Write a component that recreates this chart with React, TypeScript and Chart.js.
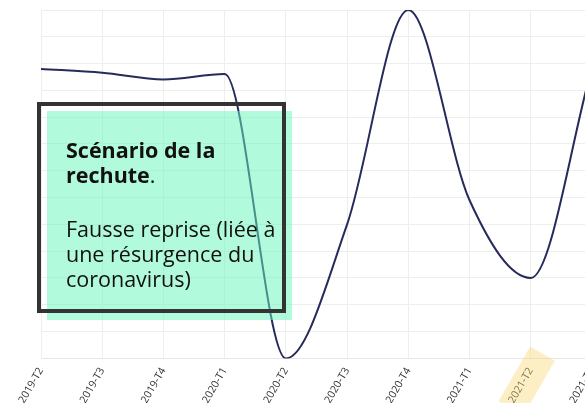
import React, { useEffect, useRef } from "react";
import { Chart, registerables } from "chart.js";

Chart.register(...registerables);

const categories = [
  "2019-T2", "2019-T3", "2019-T4", "2020-T1", "2020-T2",
  "2020-T3", "2020-T4", "2021-T1", "2021-T2", "2021-T3",
];
const values = [10.8, 10.66, 10.41, 10.61, 0, 5.0, 13, 5.9, 3.0, 10.85];
const highlightedLabel = "2021-T2";
const yMin = 0;
const yMax = 13;

const ROT = 60;
const TICK_PAD = 7;
const TICK_FONT = 10.5;

const highlightPlugin = {
  id: "labelHighlight",
  afterDraw(chart: any) {
    const xs = chart.scales.x;
    const idx = categories.indexOf(highlightedLabel);
    if (idx < 0) return;
    const ctx = chart.ctx;
    const px = xs.getPixelForTick(idx);
    const y = xs.top + TICK_PAD;
    ctx.save();
    ctx.font = `${TICK_FONT}px "Open Sans"`;
    const w = ctx.measureText(highlightedLabel).width;
    const lh = TICK_FONT * 1.2;
    ctx.translate(px, y);
    ctx.rotate((-ROT * Math.PI) / 180);
    ctx.fillStyle = "rgba(250,215,110,0.4)";
    ctx.fillRect(-w - 8, -10, w + 24, lh + 16);
    ctx.restore();
  },
};

function LineChart() {
  const ref = useRef<HTMLCanvasElement | null>(null);
  useEffect(() => {
    if (!ref.current) return;
    const chart = new Chart(ref.current, {
      type: "line",
      data: {
        labels: categories,
        datasets: [
          {
            data: values,
            borderColor: "#262b5c",
            borderWidth: 2,
            pointRadius: 0,
            fill: false,
            cubicInterpolationMode: "monotone",
          },
        ],
      },
      options: {
        animation: false,
        responsive: false,
        devicePixelRatio: 1,
        layout: { padding: { left: 41, top: 10, right: 30, bottom: 0 } },
        plugins: { legend: { display: false }, tooltip: { enabled: false } },
        scales: {
          x: {
            grid: { color: "#eeeeee", drawTicks: false },
            border: { color: "#e6e6e6" },
            afterFit: (axis: any) => {
              axis.height = 44.6;
            },
            ticks: {
              minRotation: ROT,
              maxRotation: ROT,
              padding: TICK_PAD,
              autoSkip: false,
              color: "#333333",
              font: { family: '"Open Sans"', size: TICK_FONT },
            },
          },
          y: {
            min: yMin,
            max: yMax,
            grid: { color: "#eeeeee", drawTicks: false },
            border: { color: "#eeeeee" },
            ticks: { display: false, stepSize: 1 },
          },
        },
      },
      plugins: [highlightPlugin],
    });
    return () => chart.destroy();
  }, []);
  return (
    <canvas
      ref={ref}
      width={622}
      height={403}
      style={{ position: "absolute", left: 0, top: 0, width: 622, height: 403 }}
    />
  );
}

export default function App() {
  return (
    <div
      style={{
        position: "fixed",
        left: 0,
        top: 0,
        width: 585,
        height: 403,
        overflow: "hidden",
        background: "#ffffff",
      }}
    >
      <LineChart />
      <div
        style={{
          position: "absolute",
          left: 47,
          top: 111,
          width: 245,
          height: 209,
          background: "rgba(102,245,185,0.5)",
        }}
      />
      <div
        style={{
          position: "absolute",
          left: 37,
          top: 102,
          width: 249,
          height: 211,
          boxSizing: "border-box",
          border: "4px solid #333333",
        }}
      />
      <div
        style={{
          position: "absolute",
          left: 66,
          top: 137,
          fontFamily: '"Open Sans", sans-serif',
          fontSize: 21.5,
          lineHeight: "25px",
          color: "#111111",
          whiteSpace: "nowrap",
        }}
      >
        <div>
          <b>Scénario de la</b>
          <br />
          <b>rechute</b>.
        </div>
        <div style={{ marginTop: 29 }}>
          Fausse reprise (liée à
          <br />
          une résurgence du
          <br />
          coronavirus)
        </div>
      </div>
    </div>
  );
}
